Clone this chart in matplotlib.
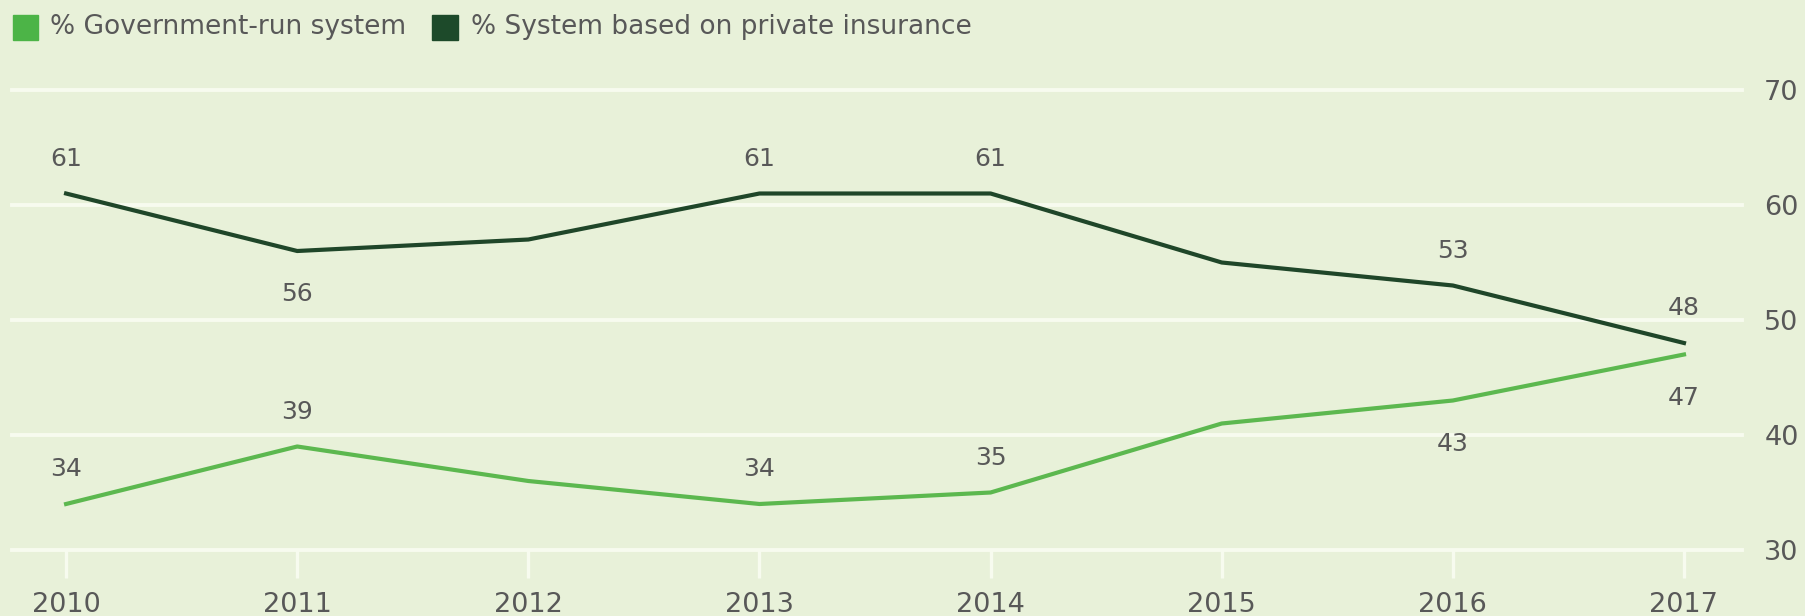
import matplotlib
matplotlib.use("Agg")
import matplotlib.pyplot as plt
from matplotlib.patches import Rectangle

years = [2010, 2011, 2012, 2013, 2014, 2015, 2016, 2017]
government = [34, 39, 36, 34, 35, 41, 43, 47]
private = [61, 56, 57, 61, 61, 55, 53, 48]

# which points get a value label, and on which side of the line
gov_labels = {2010: "above", 2011: "above", 2013: "above", 2014: "above",
              2016: "below", 2017: "below"}
priv_labels = {2010: "above", 2011: "below", 2013: "above", 2014: "above",
               2016: "above", 2017: "above"}

yticks = [30, 40, 50, 60, 70]
legend_labels = ["% Government-run system", "% System based on private insurance"]

BG = "#e8f1d9"
GRID = "#f7fbef"
LIGHT = "#5cb84f"
DARK = "#1f4629"
SWATCH_LIGHT = "#4cb447"
SWATCH_DARK = "#1d4a2a"
TEXT = "#585858"

W, H = 1805, 616
fig = plt.figure(figsize=(W / 100, H / 100), dpi=100, facecolor=BG)
ax = fig.add_axes([12 / W, 66 / H, 1730 / W, 460 / H])
ax.set_facecolor(BG)
for s in ax.spines.values():
    s.set_visible(False)

# 2010 sits at x=66px, 2017 at x=1684px
ax.set_xlim(2009.766, 2017.251)
ax.set_ylim(30, 70)

for yv in yticks:
    ax.axhline(yv, color=GRID, lw=2.8, zorder=1, clip_on=False)

ax.plot(years, private, color=DARK, lw=3.0, zorder=3)
ax.plot(years, government, color=LIGHT, lw=3.0, zorder=3)

lab_font = dict(fontsize=18, color=TEXT, ha="center", va="center")
for series, where in ((private, priv_labels), (government, gov_labels)):
    for yr, val in zip(years, series):
        if yr not in where:
            continue
        dy = 25 if where[yr] == "above" else -31
        ax.annotate(str(val), (yr, val), xytext=(0, dy),
                    textcoords="offset points", **lab_font)

ax.set_xticks(years)
ax.set_xticklabels([str(y) for y in years])
ax.tick_params(axis="x", length=20, width=2.4, color=GRID, pad=10,
               labelsize=19.5, labelcolor=TEXT)

ax.yaxis.tick_right()
ax.set_yticks(yticks)
ax.tick_params(axis="y", length=0, pad=16, labelsize=19.5, labelcolor=TEXT)

# legend drawn by hand: square swatch + text
fig.patches.append(Rectangle((13 / W, 1 - 40 / H), 25 / W, 25 / H,
                             transform=fig.transFigure, color=SWATCH_LIGHT))
fig.text(50 / W, 1 - 27 / H, legend_labels[0], fontsize=19, color=TEXT,
         va="center", ha="left")
fig.patches.append(Rectangle((432 / W, 1 - 40 / H), 26 / W, 25 / H,
                             transform=fig.transFigure, color=SWATCH_DARK))
fig.text(471 / W, 1 - 27 / H, legend_labels[1], fontsize=19, color=TEXT,
         va="center", ha="left")

fig.savefig("out.png", dpi=100, facecolor=BG)
